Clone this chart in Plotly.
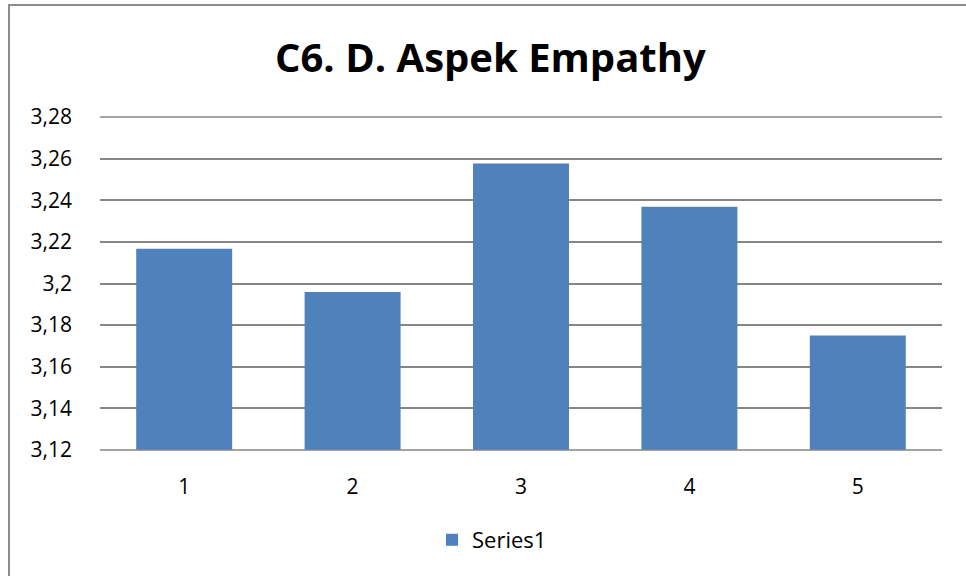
import plotly.graph_objects as go

categories = ["1", "2", "3", "4", "5"]
values = [3.2167, 3.1959, 3.2576, 3.2369, 3.1750]
tick_vals = [3.12, 3.14, 3.16, 3.18, 3.20, 3.22, 3.24, 3.26, 3.28]
tick_text = ["3,12", "3,14", "3,16", "3,18", "3,2", "3,22", "3,24", "3,26", "3,28"]
series_name = "Series1"
title_text = "C6. D. Aspek Empathy"

W, H = 966, 576
L, R, T, B = 100, 24, 117, 126
pw, ph = W - L - R, H - T - B

fig = go.Figure()
fig.add_trace(go.Bar(
    x=categories, y=values, name=series_name,
    marker=dict(color="#4F81BD", line=dict(width=0)),
))

FONT = "Open Sans"
GRID = "#868686"
fig.update_layout(
    width=W, height=H,
    margin=dict(l=L, r=R, t=T, b=B, autoexpand=False),
    paper_bgcolor="white", plot_bgcolor="white",
    bargap=0.43,
    showlegend=True,
    legend=dict(orientation="h", x=492 / W, xanchor="center", xref="container",
                y=1 - 540 / H, yanchor="middle", yref="container",
                font=dict(family=FONT, size=22, color="#000000"),
                itemwidth=30),
    xaxis=dict(showgrid=False, showline=False, ticks="", automargin=False,
               ticklabelstandoff=22,
               tickfont=dict(family=FONT, size=21, color="#000000")),
    yaxis=dict(range=[tick_vals[0], tick_vals[-1]], tickvals=tick_vals, ticktext=tick_text,
               showgrid=True, gridcolor=GRID, gridwidth=1.6, automargin=False,
               zeroline=False, showline=False, ticks="", ticklen=0,
               ticklabelstandoff=27,
               tickfont=dict(family=FONT, size=21, color="#000000")),
    annotations=[dict(text="<b>" + title_text + "</b>", xref="paper", yref="paper",
                      x=(490 - L) / pw, y=(H - B - 56) / ph,
                      xanchor="center", yanchor="middle", showarrow=False,
                      font=dict(family=FONT, size=40, color="#000000"))],
    shapes=[dict(type="rect", xref="paper", yref="paper",
                 x0=(9 - L) / pw, x1=(W + 20 - L) / pw,
                 y0=(H - B - (H + 20)) / ph, y1=(H - B - 5) / ph,
                 line=dict(color="#8C8C8C", width=2), fillcolor="rgba(0,0,0,0)",
                 layer="below")],
)
# gridlines at the bottom and top edges of the plot area (range ends)
for yp in (0, 1):
    fig.add_shape(type="line", xref="paper", yref="paper", x0=0, x1=1, y0=yp, y1=yp,
                  line=dict(color=GRID, width=1.6), layer="above")
fig.write_html("out.html", config={"displayModeBar": False},
               post_script="document.body.style.margin='0';document.body.style.overflow='hidden';")
